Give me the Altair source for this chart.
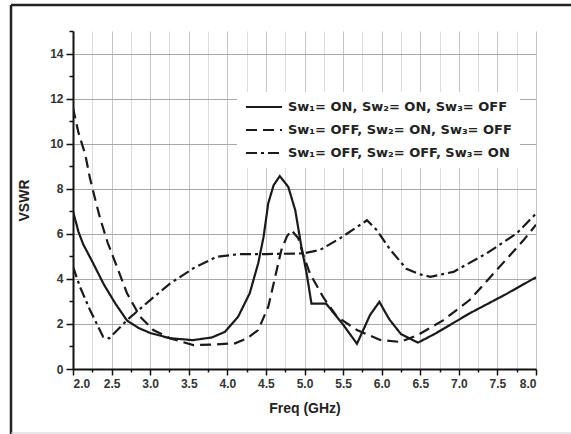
import altair as alt
import pandas as pd

labels = [
    "Sw\u2081= ON, Sw\u2082= ON, Sw\u2083= OFF",
    "Sw\u2081= OFF, Sw\u2082= ON, Sw\u2083= OFF",
    "Sw\u2081= OFF, Sw\u2082= OFF, Sw\u2083= ON",
]

freq_a = [2.0, 2.07, 2.13, 2.26, 2.4, 2.55, 2.7, 2.85, 3.0, 3.25, 3.55, 3.8, 3.97, 4.14, 4.29,
          4.40, 4.47, 4.53, 4.60, 4.68, 4.79, 4.88, 4.96, 5.03, 5.09, 5.28, 5.5, 5.68, 5.85, 5.97,
          6.1, 6.25, 6.47, 6.7, 7.14, 7.6, 8.0]
vswr_a = [7.0, 6.1, 5.55, 4.7, 3.75, 2.9, 2.15, 1.82, 1.6, 1.37, 1.28, 1.4, 1.65, 2.32, 3.36,
          4.69, 5.87, 7.35, 8.16, 8.56, 8.08, 7.05, 5.42, 4.2, 2.9, 2.9, 1.97, 1.12, 2.4, 2.98,
          2.2, 1.55, 1.17, 1.58, 2.47, 3.3, 4.07]

freq_b = [2.0, 2.07, 2.16, 2.22, 2.29, 2.35, 2.45, 2.52, 2.7, 2.87, 3.04, 3.26, 3.56, 3.8, 4.1,
          4.25, 4.4, 4.53, 4.62, 4.7, 4.77, 4.83, 4.92, 4.98, 5.07, 5.24, 5.42, 5.68, 5.98, 6.24,
          6.47, 6.8, 7.14, 7.49, 7.84, 8.0]
vswr_b = [11.6, 10.5, 9.5, 8.46, 7.5, 6.7, 5.6, 4.98, 3.36, 2.32, 1.73, 1.36, 1.06, 1.08, 1.14,
          1.35, 1.73, 2.76, 4.09, 5.28, 5.87, 6.16, 5.8, 5.1, 4.24, 3.2, 2.32, 1.73, 1.29, 1.2,
          1.51, 2.17, 3.06, 4.39, 5.72, 6.4]

freq_c = [2.0, 2.09, 2.22, 2.39, 2.47, 2.7, 3.0, 3.26, 3.56, 3.86, 4.16, 4.5, 4.98, 5.2, 5.46,
          5.81, 5.94, 6.11, 6.32, 6.5, 6.63, 6.93, 7.36, 7.75, 8.0]
vswr_c = [4.54, 3.65, 2.62, 1.43, 1.36, 2.17, 3.06, 3.8, 4.47, 4.98, 5.1, 5.1, 5.13, 5.28, 5.8,
          6.6, 6.15, 5.3, 4.45, 4.2, 4.09, 4.31, 5.13, 6.02, 6.9]

x_ticks = [2.0 + 0.25 * i for i in range(25)]
y_ticks = list(range(0, 16))

rows = []
for name, fs, vs in zip(labels, [freq_a, freq_b, freq_c], [vswr_a, vswr_b, vswr_c]):
    for i, (f, v) in enumerate(zip(fs, vs)):
        rows.append({"series": name, "freq": f, "vswr": v, "order": i})
df = pd.DataFrame(rows)

FONT = "Liberation Sans"

lines = alt.Chart(df).mark_line(color="#1a1a1a", strokeWidth=2.2, clip=True).encode(
    x=alt.X("freq:Q", title="Freq (GHz)",
            scale=alt.Scale(domain=[2, 8], nice=False, zero=False),
            axis=alt.Axis(values=x_ticks,
                          labelExpr="datum.value % 0.5 === 0 ? format(datum.value, '.1f') : ''",
                          tickSize={"condition": {"test": "datum.value % 0.5 === 0", "value": 6}, "value": 3},
                          gridColor={"condition": {"test": "datum.value % 0.5 === 0", "value": "#c4c4c4"}, "value": "#dcdcdc"},
                          labelPadding=3, titlePadding=12)),
    y=alt.Y("vswr:Q", title="VSWR",
            scale=alt.Scale(domain=[0, 15], nice=False),
            axis=alt.Axis(values=y_ticks,
                          labelExpr="datum.value % 2 === 0 && datum.value <= 14 ? datum.value : ''",
                          tickSize={"condition": {"test": "datum.value % 2 === 0", "value": 7}, "value": 4},
                          gridOpacity={"condition": {"test": "datum.value % 2 === 0 && datum.value > 0 && datum.value <= 14", "value": 1}, "value": 0},
                          gridColor="#a8a8a8",
                          labelPadding=3, titlePadding=18)),
    strokeDash=alt.StrokeDash("series:N",
                              scale=alt.Scale(domain=labels, range=[[1, 0], [11, 6], [11, 4, 3, 4]]),
                              legend=alt.Legend(title=None, orient="none", legendX=164, legendY=61,
                                                symbolType="M-1,0H5", symbolSize=144,
                                                symbolStrokeWidth=2, symbolStrokeColor="#1a1a1a",
                                                labelFontSize=13, labelFont="DejaVu Sans", labelFontWeight="bold",
                                                labelColor="#222", labelOffset=29, rowPadding=9,
                                                padding=8, fillColor="white", labelLimit=400)),
    order="order:Q",
)

frame_data = alt.Data(values=[{}])
left_border = alt.Chart(frame_data).mark_rule(color="#222", strokeWidth=2.5).encode(
    x=alt.value(-62), y=alt.value(-26), y2=alt.value(403))
top_border = alt.Chart(frame_data).mark_rule(color="#222", strokeWidth=2.5).encode(
    x=alt.value(-62), x2=alt.value(498), y=alt.value(-26))
bottom_border = alt.Chart(frame_data).mark_rule(color="#cfcfcf", strokeWidth=1).encode(
    x=alt.value(-62), x2=alt.value(498), y=alt.value(402))

chart = alt.layer(lines, left_border, top_border, bottom_border).properties(
    width=463, height=338,
    autosize=alt.AutoSizeParams(type="none"),
    padding={"left": 73, "top": 31, "right": 35, "bottom": 65},
    background="white",
).configure_view(stroke=None).configure_axis(
    domainColor="#111", domainWidth=2, tickColor="#111", tickWidth=1.5,
    labelFont=FONT, labelFontSize=12, labelFontWeight="bold", labelColor="#333",
    titleFont=FONT, titleFontSize=14, titleFontWeight="bold", titleColor="#222",
)

chart.save("out.html", embed_options={"renderer": "svg", "actions": False})
